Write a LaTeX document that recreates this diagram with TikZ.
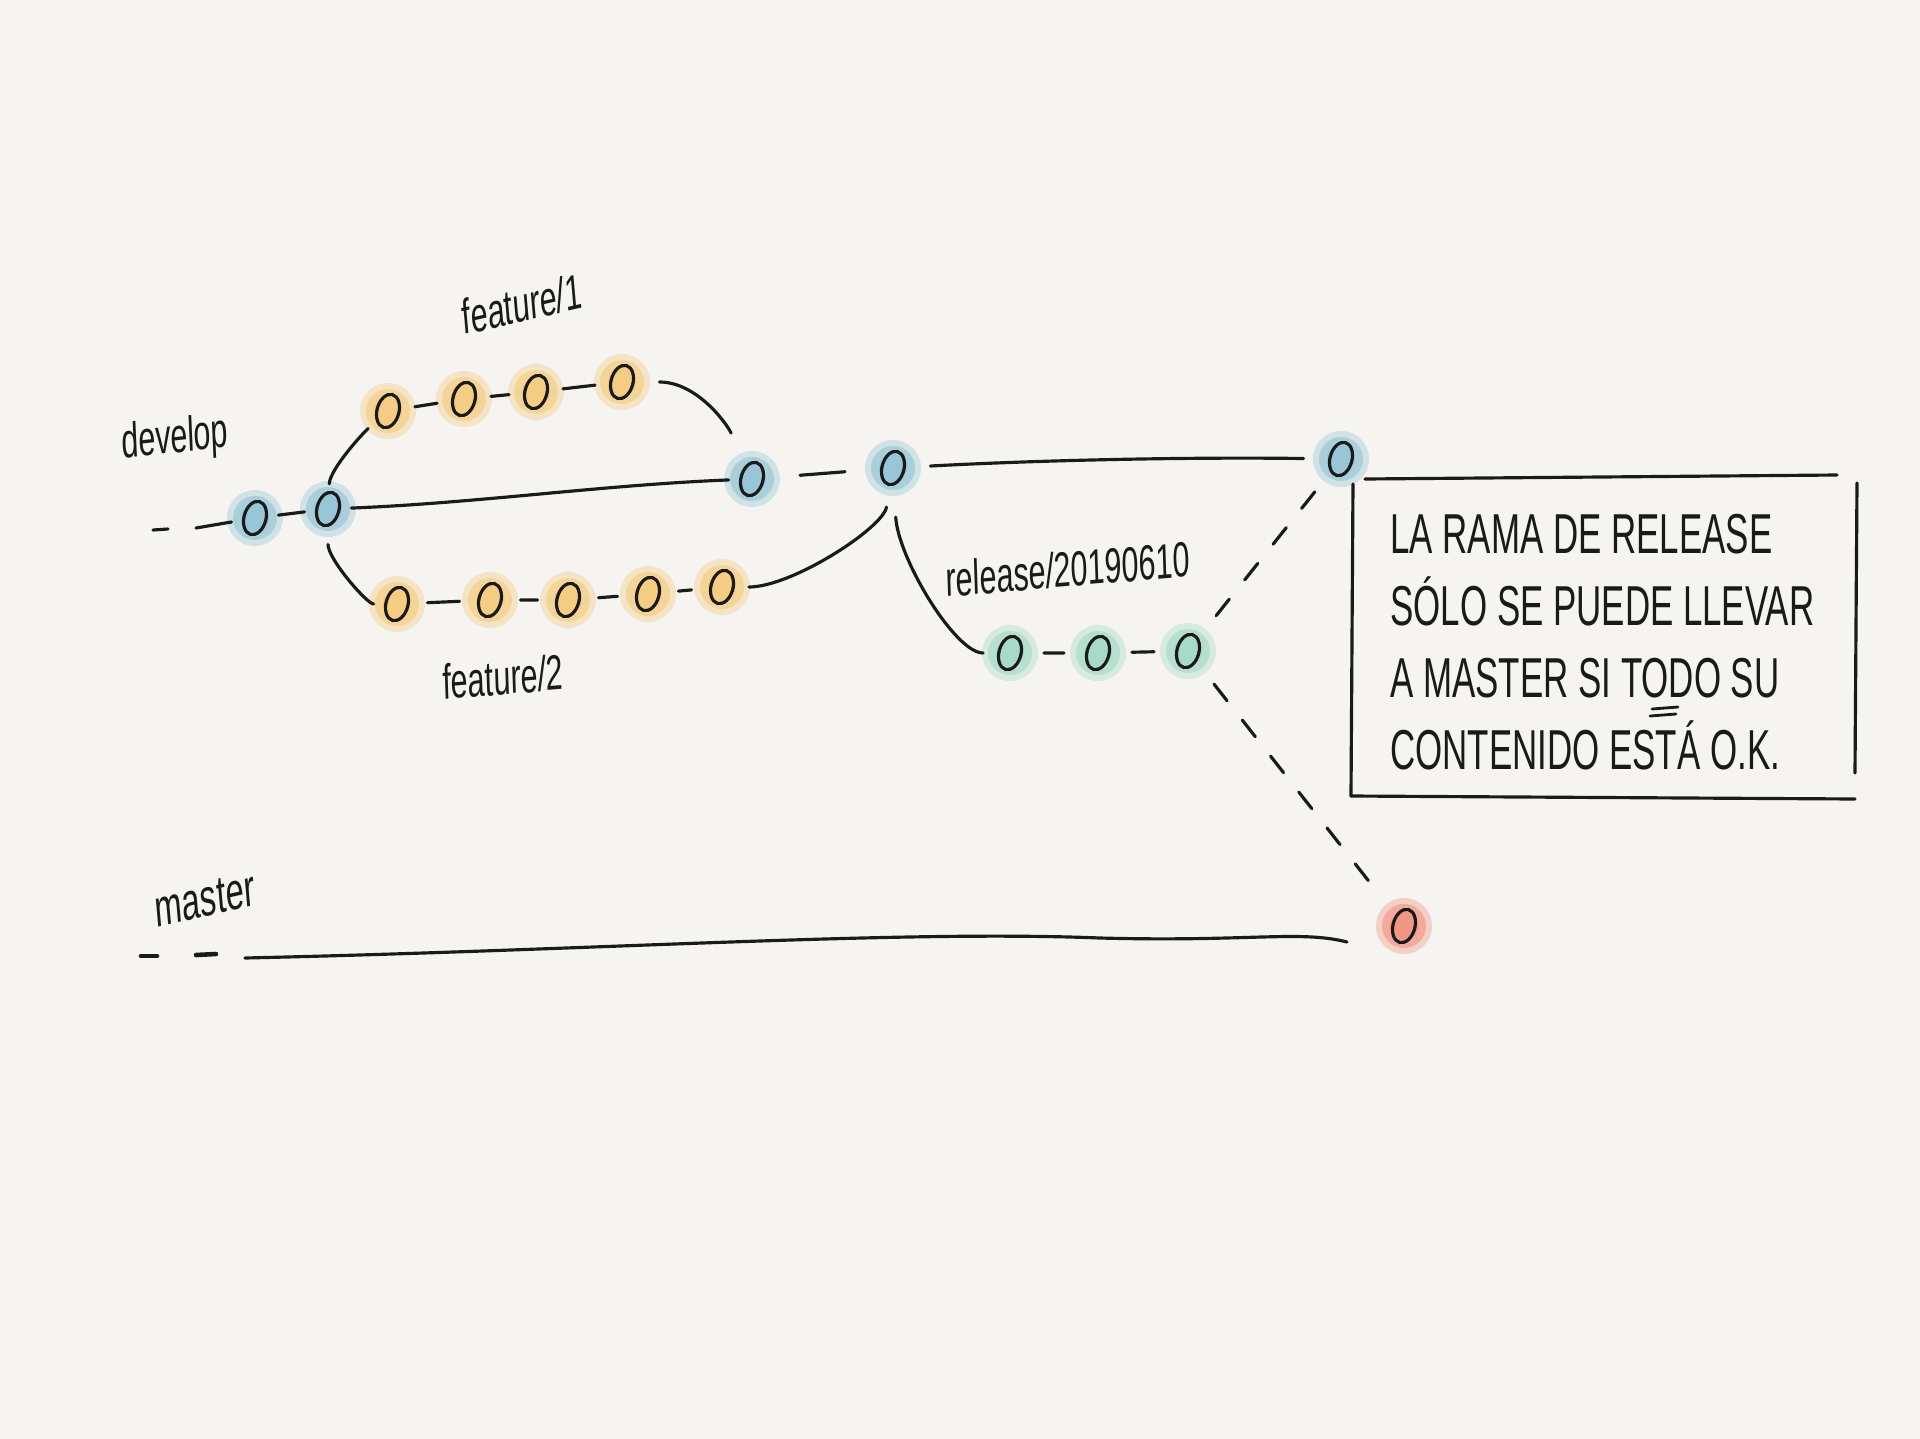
\documentclass[tikz,border=0pt]{standalone}
\usepackage{fontspec}
\setmainfont{Liberation Sans}
\usetikzlibrary{shapes.geometric}
\definecolor{bg}{HTML}{F5F4F0}
\definecolor{cblue}{HTML}{7DB9CF}
\definecolor{cyellow}{HTML}{F4C164}
\definecolor{cgreen}{HTML}{92D3BD}
\definecolor{cred}{HTML}{F27B67}
\definecolor{ink}{HTML}{1A1A1A}
\tikzset{
  commit/.style={ellipse, draw=ink, line width=0.9pt, minimum width=0.22cm, minimum height=0.34cm, inner sep=0pt, rotate=-15},
  link/.style={draw=ink, line width=0.9pt, line cap=round},
  dashlink/.style={link, dash pattern=on 6pt off 7pt},
  hand/.style={text=ink, font=\fontsize{14}{16}\selectfont, xscale=0.62, inner sep=0pt},
  notestyle/.style={text=ink, font=\fontsize{16}{20.5}\selectfont, xscale=0.62, align=left, inner sep=0pt},
}
\newcommand\mkcommit[3]{%
  \fill[#3, opacity=0.3] (#2) circle[radius=0.28cm];
  \fill[#3, opacity=0.45] (#2) circle[radius=0.22cm];
  \fill[#3, opacity=0.4] (#2) circle[radius=0.14cm];
  \node[commit] (#1) at (#2) {};
}
\begin{document}
\begin{tikzpicture}[x=0.01cm, y=-0.01cm]
\fill[bg] (0,0) rectangle (1920,1439);
\useasboundingbox (0,0) rectangle (1920,1439);

% develop commits
\mkcommit{d1}{255,518}{cblue}
\mkcommit{d2}{328,509}{cblue}
\mkcommit{d3}{752,479}{cblue}
\mkcommit{d4}{893,468}{cblue}
\mkcommit{d5}{1341,459}{cblue}
% feature/1
\mkcommit{fa}{388,411}{cyellow}
\mkcommit{fb}{464,399}{cyellow}
\mkcommit{fc}{536,392}{cyellow}
\mkcommit{fd}{622,382}{cyellow}
% feature/2
\mkcommit{ga}{397,604}{cyellow}
\mkcommit{gb}{490,600}{cyellow}
\mkcommit{gc}{568,600}{cyellow}
\mkcommit{gd}{648,594}{cyellow}
\mkcommit{ge}{722,587}{cyellow}
% release
\mkcommit{ra}{1010,653}{cgreen}
\mkcommit{rb}{1098,653}{cgreen}
\mkcommit{rc}{1188,651}{cgreen}
% master
\mkcommit{mr}{1404,926}{cred}

% labels
\node[hand, rotate=4] (ldev) at (175,440) {develop};
\node[hand, rotate=8] (lf1) at (522,304) {feature/1};
\node[hand, rotate=3] (lf2) at (503,677) {feature/2};
\node[hand, rotate=3] (lrel) at (1068,569) {release/20190610};
\node[hand, rotate=8, font=\fontsize{15}{17}\selectfont] (lmas) at (205,900) {master};

% develop dashes
\coordinate (dv1) at (153,530);
\coordinate (dv2) at (168,529);
\coordinate (dv3) at (196,528);
\draw[link] (dv1) -- (dv2);
\draw[link, shorten >=3pt] (dv3) -- (d1);
\draw[link, shorten <=3pt, shorten >=3pt] (d1) -- (d2);
\draw[link, shorten <=3pt, shorten >=3pt] (d2) .. controls +(150,-6) and +(-150,6) .. (d3);
\draw[link, shorten <=10pt, shorten >=10pt] (d3) -- (d4);
\draw[link, shorten <=7pt, shorten >=7pt] (d4) .. controls +(150,-8) and +(-150,-2) .. (d5);

% feature/1
\draw[link, shorten <=2pt, shorten >=3pt] (d2) .. controls +(2,-40) and +(-25,22) .. (fa);
\draw[link, shorten <=4pt, shorten >=4pt] (fa) -- (fb);
\draw[link, shorten <=4pt, shorten >=4pt] (fb) -- (fc);
\draw[link, shorten <=4pt, shorten >=4pt] (fc) -- (fd);
\draw[link, shorten <=7pt, shorten >=10pt] (fd) .. controls +(75,0) and +(-25,-55) .. (d3);

% feature/2
\draw[link, shorten <=5pt, shorten >=3pt] (d2) .. controls +(0,50) and +(-30,0) .. (ga);
\draw[link, shorten <=5pt, shorten >=5pt] (ga) -- (gb);
\draw[link, shorten <=5pt, shorten >=5pt] (gb) -- (gc);
\draw[link, shorten <=5pt, shorten >=5pt] (gc) -- (gd);
\draw[link, shorten <=5pt, shorten >=5pt] (gd) -- (ge);
\draw[link, shorten <=4pt, shorten >=6pt] (ge) .. controls +(70,0) and +(-10,60) .. (d4);

% release
\draw[link, shorten <=9pt, shorten >=4pt] (d4) .. controls +(5,90) and +(-55,0) .. (ra);
\draw[link, shorten <=6pt, shorten >=6pt] (ra) -- (rb);
\draw[link, shorten <=6pt, shorten >=6pt] (rb) -- (rc);
\draw[dashlink, shorten <=8pt, shorten >=4pt] (rc) -- (d5);
\draw[dashlink, shorten <=8pt, shorten >=11pt] (rc) -- (mr);

% master line
\coordinate (ms1) at (141,956);
\coordinate (ms2) at (157,956);
\coordinate (ms3) at (196,955);
\coordinate (ms4) at (216,954);
\coordinate (m0) at (245,958);
\coordinate (m1) at (1347,942);
\draw[link, line width=1.3pt] (ms1) -- (ms2);
\draw[link, line width=1.3pt] (ms3) -- (ms4);
\draw[link] (m0) .. controls (600,950) and (900,930) .. (1100,938) .. controls (1250,942) and (1300,930) .. (m1);

% note box
\node[minimum width=5.05cm, minimum height=3.16cm] (note) at (1604,638) {};
\draw[link] (1365,479) -- (1837,475);
\draw[link] (1353,484) -- (1351,796);
\draw[link] (1351,796) -- (1855,799);
\draw[link] (1857,483) -- (1855,773);
\node[notestyle, anchor=west] (notetext) at (1390,642)
  {LA RAMA DE RELEASE\\
   SÓLO SE PUEDE LLEVAR\\
   A MASTER SI TODO SU\\
   CONTENIDO ESTÁ O.K.};
% double underline under TODO
\coordinate (u1a) at (1652,709);
\coordinate (u1b) at (1678,707);
\coordinate (u2a) at (1650,716);
\coordinate (u2b) at (1676,714);
\draw[link, line width=0.8pt] (u1a) -- (u1b);
\draw[link, line width=0.8pt] (u2a) -- (u2b);
\end{tikzpicture}
\end{document}
